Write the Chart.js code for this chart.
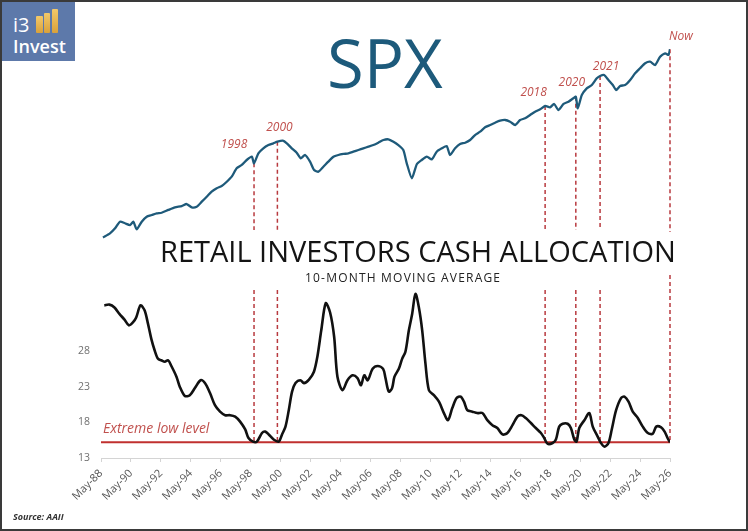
<!DOCTYPE html>
<html>
<head>
<meta charset="utf-8">
<title>SPX vs Retail Investors Cash Allocation</title>
<script src="https://cdn.jsdelivr.net/npm/chart.js@4.4.1/dist/chart.umd.min.js"></script>
<style>
  html, body { margin: 0; padding: 0; background: #fff; overflow: hidden; }
  body { width: 748px; height: 531px; position: relative; font-family: "Open Sans", sans-serif; }
  #chart { position: absolute; left: 0; top: 0; }
  .txt { position: absolute; white-space: nowrap; line-height: 1; }
  #frame { position: absolute; left: 0; top: 0; width: 748px; height: 531px; box-sizing: border-box;
           border: 2px solid #3a3a3a; pointer-events: none; }
  #logo { position: absolute; left: 2px; top: 2px; width: 73px; height: 59px; background: #5d79aa; }
  #logo .bar { position: absolute; width: 6.5px; bottom: 28px; background: linear-gradient(#f3c96a, #d9a13a); border-radius: 1px; }
</style>
</head>
<body>
<canvas id="chart" width="748" height="531"></canvas>

<div id="logo">
  <div class="txt" style="left:11px; top:13px; font-size:20px; color:#fff;">i3</div>
  <div class="bar" style="left:34px; height:17px;"></div>
  <div class="bar" style="left:41.5px; height:20.5px;"></div>
  <div class="bar" style="left:49.5px; height:24px;"></div>
  <div class="txt" style="left:11px; top:34.7px; font-size:18px; font-weight:600; color:#fff;">Invest</div>
</div>

<div class="txt" style="left:327px; top:29px; font-size:67px; color:#1d5a7b;">SPX</div>
<div class="txt" style="left:160px; top:236px; font-size:29px; color:#141414;">RETAIL INVESTORS CASH ALLOCATION</div>
<div class="txt" style="left:305px; top:272px; font-size:12px; letter-spacing:1.2px; color:#222;">10-MONTH MOVING AVERAGE</div>
<div class="txt" style="left:13px; top:512px; font-size:9px; font-weight:bold; font-style:italic; color:#333;">Source: AAII</div>

<div id="frame"></div>

<script>
// S&P 500 (log scale)
const spxYears = [
  1988.50, 1988.97, 1989.31, 1989.64, 1989.97, 1990.31, 1990.53, 1990.75, 1991.09, 1991.42,
  1991.76, 1992.09, 1992.42, 1992.87, 1993.31, 1993.76, 1994.09, 1994.43, 1994.76, 1995.10,
  1995.43, 1995.76, 1996.10, 1996.43, 1996.77, 1997.10, 1997.43, 1997.77, 1998.10, 1998.44,
  1998.59, 1998.88, 1999.21, 1999.55, 1999.88, 2000.15, 2000.51, 2000.78, 2001.11, 2001.44,
  2001.71, 2002.00, 2002.33, 2002.60, 2002.89, 2003.22, 2003.55, 2003.89, 2004.22, 2004.56,
  2004.89, 2005.22, 2005.56, 2005.89, 2006.23, 2006.56, 2006.89, 2007.23, 2007.56, 2007.90,
  2008.23, 2008.56, 2008.79, 2009.13, 2009.46, 2009.79, 2010.13, 2010.46, 2010.79, 2011.13,
  2011.46, 2011.68, 2012.02, 2012.35, 2012.69, 2013.02, 2013.35, 2013.69, 2014.02, 2014.36,
  2014.69, 2015.02, 2015.36, 2015.69, 2016.03, 2016.36, 2016.69, 2017.03, 2017.36, 2017.70,
  2018.03, 2018.36, 2018.63, 2018.92, 2019.26, 2019.59, 2019.92, 2020.08, 2020.21, 2020.48,
  2020.81, 2021.15, 2021.48, 2021.70, 2021.97, 2022.26, 2022.55, 2022.77, 2023.04, 2023.37,
  2023.71, 2024.04, 2024.37, 2024.71, 2025.04, 2025.38, 2025.71, 2026.05, 2026.27, 2026.37
];
const spxValues = [
  258, 277, 302, 339, 330, 320, 339, 297, 339, 370,
  381, 392, 396, 416, 435, 445, 461, 435, 440, 480,
  523, 571, 606, 630, 679, 741, 857, 908, 990, 1049,
  935, 1112, 1213, 1284, 1323, 1360, 1384, 1323, 1213, 1124,
  1020, 1080, 962, 832, 808, 881, 962, 1049, 1080, 1099,
  1112, 1144, 1178, 1213, 1247, 1284, 1337, 1401, 1418, 1360,
  1284, 1178, 935, 720, 920, 990, 1050, 1000, 1144, 1213,
  1262, 1080, 1213, 1307, 1337, 1401, 1528, 1619, 1747, 1818,
  1892, 1959, 1983, 1925, 1818, 1983, 2043, 2164, 2291, 2388,
  2529, 2472, 2619, 2359, 2619, 2725, 2892, 2972, 2430, 3061,
  3438, 3642, 4090, 4258, 4333, 3973, 3642, 3339, 3581, 3642,
  3973, 4463, 4868, 5308, 5457, 5154, 5953, 6315, 6132, 6768
];

// Retail investors cash allocation, 10-month moving average (%)
const cashYears = [
  1988.59, 1988.93, 1989.27, 1989.60, 1989.94, 1990.23, 1990.50, 1990.72, 1991.01, 1991.28,
  1991.51, 1991.73, 1991.95, 1992.18, 1992.40, 1992.63, 1992.85, 1993.07, 1993.41, 1993.63,
  1993.97, 1994.30, 1994.64, 1995.02, 1995.31, 1995.65, 1995.98, 1996.32, 1996.66, 1996.99,
  1997.33, 1997.66, 1998.00, 1998.22, 1998.52, 1998.78, 1999.12, 1999.34, 1999.57, 1999.90,
  2000.24, 2000.46, 2000.69, 2000.91, 2001.13, 2001.36, 2001.69, 2001.92, 2002.26, 2002.59,
  2002.82, 2003.08, 2003.38, 2003.67, 2003.94, 2004.16, 2004.50, 2004.83, 2005.17, 2005.50,
  2005.73, 2005.95, 2006.18, 2006.51, 2006.85, 2007.21, 2007.37, 2007.59, 2007.81, 2007.97,
  2008.26, 2008.48, 2008.70, 2008.93, 2009.15, 2009.37, 2009.60, 2009.82, 2010.04, 2010.27,
  2010.60, 2010.94, 2011.27, 2011.54, 2011.83, 2012.12, 2012.39, 2012.61, 2012.83, 2013.17,
  2013.50, 2013.84, 2014.17, 2014.51, 2014.84, 2015.18, 2015.51, 2015.85, 2016.18, 2016.45,
  2016.74, 2017.08, 2017.41, 2017.75, 2017.97, 2018.19, 2018.53, 2018.75, 2018.97, 2019.20,
  2019.53, 2019.75, 2019.98, 2020.13, 2020.31, 2020.65, 2020.98, 2021.21, 2021.54, 2021.76,
  2021.99, 2022.26, 2022.48, 2022.77, 2023.10, 2023.33, 2023.60, 2023.88, 2024.22, 2024.55,
  2024.89, 2025.22, 2025.45, 2025.78, 2026.01, 2026.23, 2026.37
];
const cashValues = [
  34.4, 34.5, 34.1, 33.2, 32.4, 31.6, 32.0, 32.7, 34.4, 33.7,
  31.8, 29.7, 28.1, 26.9, 26.7, 26.5, 26.7, 25.9, 24.4, 23.0,
  21.7, 21.8, 22.8, 23.9, 23.5, 22.1, 20.4, 19.5, 19.0, 19.0,
  18.8, 18.1, 17.0, 15.8, 15.3, 15.3, 16.5, 16.7, 16.3, 15.6,
  15.3, 16.3, 17.4, 19.7, 22.3, 23.5, 23.9, 23.5, 24.0, 25.1,
  27.2, 30.9, 34.7, 33.4, 30.0, 24.4, 22.5, 23.9, 24.6, 24.2,
  23.2, 24.6, 23.9, 25.5, 25.9, 25.5, 24.2, 22.3, 22.8, 24.4,
  25.5, 26.9, 27.9, 30.9, 33.2, 36.0, 34.1, 30.9, 26.2, 22.5,
  21.8, 20.9, 19.3, 18.3, 20.0, 21.4, 21.6, 20.9, 19.7, 19.5,
  19.3, 19.3, 18.3, 17.6, 17.2, 16.3, 16.5, 17.6, 18.8, 19.0,
  18.6, 17.9, 17.2, 16.5, 15.8, 15.0, 15.1, 15.6, 17.4, 17.8,
  17.8, 17.2, 15.6, 15.3, 17.2, 18.3, 19.3, 17.4, 16.0, 15.1,
  14.6, 15.1, 17.0, 19.7, 21.4, 21.6, 20.9, 19.5, 18.6, 17.4,
  16.5, 16.4, 17.4, 17.3, 16.7, 15.7, 15.2
];

const tickYears = [
  1988.37, 1990.37, 1992.37, 1994.37, 1996.37, 1998.37, 2000.37, 2002.37, 2004.37, 2006.37,
  2008.37, 2010.37, 2012.37, 2014.37, 2016.37, 2018.37, 2020.37, 2022.37, 2024.37, 2026.37
];
const tickLabels = [
  "May-88", "May-90", "May-92", "May-94", "May-96", "May-98", "May-00", "May-02", "May-04", "May-06",
  "May-08", "May-10", "May-12", "May-14", "May-16", "May-18", "May-20", "May-22", "May-24", "May-26"
];
const cashTicks = [13, 18, 23, 28];
const extremeLow = 15.2;

const eventLabels = ["1998", "2000", "2018", "2020", "2021", "Now"];
const eventYears = [1998.59, 2000.15, 2018.03, 2020.08, 2021.70, 2026.37];

// label offsets from the SPX point, and the blank band behind the lower title (px)
const labelOffsets = [[-20, -19], [2, -14], [-11.5, -13], [-4, -14], [6, -9], [11, -13]];
const gapBands = [[230, 290], [230, 290], [230, 290], [230, 290], [230, 290], [232, 275]];

function spxAt(year) {
  let best = 0;
  spxYears.forEach((y, i) => {
    if (Math.abs(y - year) < Math.abs(spxYears[best] - year)) best = i;
  });
  return spxValues[best];
}

const markersPlugin = {
  id: "markers",
  beforeDatasetsDraw(chart) {
    const { ctx, chartArea, scales } = chart;
    const lowY = scales.cash.getPixelForValue(extremeLow);
    ctx.save();
    // extreme low level line
    ctx.strokeStyle = "#c0302f";
    ctx.lineWidth = 2;
    ctx.beginPath();
    ctx.moveTo(chartArea.left, lowY);
    ctx.lineTo(chartArea.right, lowY);
    ctx.stroke();

    // dashed verticals from SPX tops down to the low level
    ctx.strokeStyle = "#b83a3f";
    ctx.lineWidth = 1.5;
    ctx.setLineDash([4, 3]);
    eventYears.forEach((yr, i) => {
      const px = scales.x.getPixelForValue(yr);
      const py = scales.spx.getPixelForValue(spxAt(yr));
      const gap = gapBands[i];
      ctx.beginPath();
      ctx.moveTo(px, py);
      ctx.lineTo(px, gap[0]);
      ctx.moveTo(px, gap[1]);
      ctx.lineTo(px, lowY);
      ctx.stroke();
    });
    ctx.restore();
  },
  afterDatasetsDraw(chart) {
    const { ctx, chartArea, scales } = chart;
    const lowY = scales.cash.getPixelForValue(extremeLow);
    ctx.save();
    ctx.fillStyle = "#c0504d";
    ctx.textAlign = "center";
    ctx.textBaseline = "middle";
    ctx.font = "italic 12px 'Open Sans'";
    eventYears.forEach((yr, i) => {
      const px = scales.x.getPixelForValue(yr);
      const py = scales.spx.getPixelForValue(spxAt(yr));
      ctx.fillText(eventLabels[i], px + labelOffsets[i][0], py + labelOffsets[i][1]);
    });
    ctx.textAlign = "left";
    ctx.textBaseline = "alphabetic";
    ctx.font = "italic 14px 'Open Sans'";
    ctx.fillText("Extreme low level", chartArea.left + 2, lowY - 9);
    ctx.restore();
  }
};

new Chart(document.getElementById("chart"), {
  type: "line",
  data: {
    datasets: [
      {
        label: "SPX",
        data: spxYears.map((x, i) => ({ x, y: spxValues[i] })),
        yAxisID: "spx",
        borderColor: "#1e5a7a",
        borderWidth: 2.3,
        pointRadius: 0,
        tension: 0.2
      },
      {
        label: "Cash allocation",
        data: cashYears.map((x, i) => ({ x, y: cashValues[i] })),
        yAxisID: "cash",
        borderColor: "#111111",
        borderWidth: 2.6,
        pointRadius: 0,
        tension: 0.3
      }
    ]
  },
  options: {
    responsive: false,
    animation: false,
    layout: { padding: { top: 20, right: 78, bottom: 0, left: 0 } },
    plugins: { legend: { display: false }, tooltip: { enabled: false } },
    scales: {
      x: {
        type: "linear",
        min: 1988.37,
        max: 2026.37,
        afterBuildTicks: s => { s.ticks = tickYears.map(v => ({ value: v })); },
        afterFit: s => { s.height = 73; },
        grid: { drawOnChartArea: false, drawTicks: true, tickLength: 4, color: "#d4d4d4" },
        border: { display: true, color: "#d4d4d4", width: 1 },
        ticks: {
          autoSkip: false,
          minRotation: 45,
          maxRotation: 45,
          padding: 5,
          color: "#555555",
          font: { family: "Open Sans", size: 11 },
          callback: (v, i) => tickLabels[i]
        }
      },
      cash: {
        type: "linear",
        axis: "y",
        position: "left",
        min: 13,
        max: 74.4,
        afterBuildTicks: s => { s.ticks = cashTicks.map(v => ({ value: v })); },
        afterFit: s => { s.width = 101; },
        grid: { display: false },
        border: { display: false },
        ticks: { padding: 3, color: "#707070", font: { family: "Open Sans", size: 10.5 } }
      },
      spx: {
        type: "logarithmic",
        axis: "y",
        position: "right",
        display: false,
        min: 5.6,
        max: 11260
      }
    }
  },
  plugins: [markersPlugin]
});
</script>
</body>
</html>
